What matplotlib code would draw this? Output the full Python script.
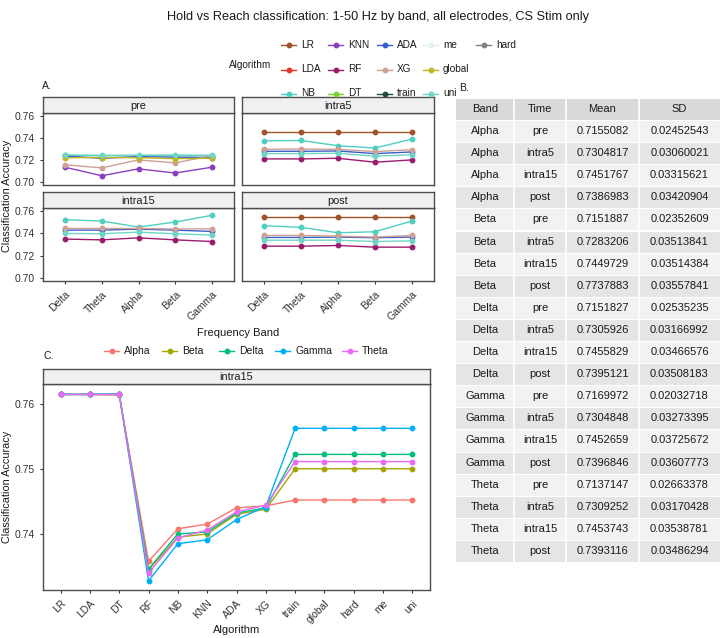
import matplotlib

matplotlib.use("Agg")
import matplotlib.pyplot as plt
from matplotlib.lines import Line2D
from matplotlib.patches import Rectangle

plt.rcParams["font.family"] = ["Liberation Sans", "DejaVu Sans"]

W, H = 720, 638
EDGE = "#4D4D4D"
TXT = "#333333"

# ---- data -----------------------------------------------------------------
bands = ["Delta", "Theta", "Alpha", "Beta", "Gamma"]
algorithms = ["LR", "LDA", "NB", "KNN", "RF", "DT", "ADA", "XG",
              "train", "me", "global", "uni", "hard"]
algo_colors = ["#A0522D", "#E8352A", "#4FCFC0", "#8B3FBF", "#9B1B6E", "#77D12E",
               "#3A5FCD", "#CFA096", "#1F4F3A", "#E3F4E3", "#BFB51C", "#6FD6C6",
               "#808080"]

pre_acc = {
    "NB": [0.7242, 0.7238, 0.7240, 0.7240, 0.7238],
    "KNN": [0.7133, 0.7055, 0.7118, 0.7080, 0.7133],
    "ADA": [0.7235, 0.7215, 0.7230, 0.7225, 0.7222],
    "XG": [0.7155, 0.7127, 0.7200, 0.7173, 0.7239],
    "global": [0.7220, 0.7222, 0.7220, 0.7212, 0.7215],
    "uni": [0.7245, 0.7243, 0.7243, 0.7245, 0.7243],
}
intra5_acc = {
    "LR": [0.7455, 0.7455, 0.7455, 0.7455, 0.7455],
    "NB": [0.7375, 0.7378, 0.7330, 0.7309, 0.7391],
    "RF": [0.7209, 0.7209, 0.7215, 0.7179, 0.7200],
    "ADA": [0.7279, 0.7279, 0.7282, 0.7258, 0.7273],
    "XG": [0.7297, 0.7300, 0.7297, 0.7276, 0.7294],
    "uni": [0.7258, 0.7258, 0.7261, 0.7234, 0.7248],
}
intra15_acc = {
    "NB": [0.7524, 0.7512, 0.7458, 0.7503, 0.7564],
    "RF": [0.7349, 0.7342, 0.7360, 0.7342, 0.7327],
    "ADA": [0.7430, 0.7430, 0.7439, 0.7430, 0.7418],
    "XG": [0.7445, 0.7445, 0.7445, 0.7440, 0.7442],
    "uni": [0.7400, 0.7397, 0.7412, 0.7397, 0.7385],
}
post_acc = {
    "LR": [0.7551, 0.7551, 0.7551, 0.7551, 0.7551],
    "NB": [0.7470, 0.7455, 0.7406, 0.7415, 0.7512],
    "RF": [0.7285, 0.7285, 0.7291, 0.7276, 0.7276],
    "ADA": [0.7364, 0.7364, 0.7367, 0.7361, 0.7367],
    "XG": [0.7382, 0.7382, 0.7376, 0.7367, 0.7382],
    "uni": [0.7339, 0.7339, 0.7339, 0.7327, 0.7333],
}

c_algorithms = ["LR", "LDA", "DT", "RF", "NB", "KNN", "ADA", "XG",
                "train", "global", "hard", "me", "uni"]
c_bands = ["Alpha", "Beta", "Delta", "Gamma", "Theta"]
c_colors = ["#F8766D", "#A3A500", "#00BF7D", "#00B0F6", "#E76BF3"]
alpha_c = [0.7614, 0.7614, 0.7613, 0.7358, 0.7408, 0.7415, 0.7440, 0.7443,
           0.7452, 0.7452, 0.7452, 0.7452, 0.7452]
beta_c = [0.7614, 0.7614, 0.7614, 0.7345, 0.7395, 0.7400, 0.7430, 0.7438,
          0.7500, 0.7500, 0.7500, 0.7500, 0.7500]
delta_c = [0.7614, 0.7614, 0.7614, 0.7346, 0.7400, 0.7403, 0.7432, 0.7440,
           0.7522, 0.7522, 0.7522, 0.7522, 0.7522]
gamma_c = [0.7614, 0.7614, 0.7615, 0.7328, 0.7385, 0.7391, 0.7422, 0.7442,
           0.7562, 0.7562, 0.7562, 0.7562, 0.7562]
theta_c = [0.7614, 0.7614, 0.7614, 0.7340, 0.7394, 0.7406, 0.7434, 0.7444,
           0.7511, 0.7511, 0.7511, 0.7511, 0.7511]

tbl_band = ["Alpha"] * 4 + ["Beta"] * 4 + ["Delta"] * 4 + ["Gamma"] * 4 + ["Theta"] * 4
tbl_time = ["pre", "intra5", "intra15", "post"] * 5
tbl_mean = ["0.7155082", "0.7304817", "0.7451767", "0.7386983",
            "0.7151887", "0.7283206", "0.7449729", "0.7737883",
            "0.7151827", "0.7305926", "0.7455829", "0.7395121",
            "0.7169972", "0.7304848", "0.7452659", "0.7396846",
            "0.7137147", "0.7309252", "0.7453743", "0.7393116"]
tbl_sd = ["0.02452543", "0.03060021", "0.03315621", "0.03420904",
          "0.02352609", "0.03513841", "0.03514384", "0.03557841",
          "0.02535235", "0.03166992", "0.03466576", "0.03508183",
          "0.02032718", "0.03273395", "0.03725672", "0.03607773",
          "0.02663378", "0.03170428", "0.03538781", "0.03486294"]

# ---- helpers --------------------------------------------------------------
fig = plt.figure(figsize=(W / 100, H / 100), dpi=100)
fig.patch.set_facecolor("white")

# transparent full-figure axes in pixel coords, drawn above the panels
overlay = fig.add_axes([0, 0, 1, 1])
overlay.set_xlim(0, W)
overlay.set_ylim(H, 0)
overlay.axis("off")
overlay.set_zorder(10)


def panel(x0, y0, x1, y1, label, strip_h=16):
    """Facet panel in pixel coords (top-left origin) with a grey strip on top."""
    ax = fig.add_axes([x0 / W, 1 - y1 / H, (x1 - x0) / W, (y1 - y0) / H])
    for s in ax.spines.values():
        s.set_color(EDGE)
        s.set_linewidth(1.0)
    ax.tick_params(colors=TXT, labelcolor=TXT, labelsize=7.5, length=2.5, width=0.8)
    strip = fig.add_axes([x0 / W, 1 - y0 / H, (x1 - x0) / W, strip_h / H])
    strip.set_facecolor("#F0F0F0")
    strip.set_xticks([])
    strip.set_yticks([])
    for s in strip.spines.values():
        s.set_color(EDGE)
        s.set_linewidth(1.0)
    strip.text(0.5, 0.45, label, ha="center", va="center", fontsize=7.8, color="#1A1A1A")
    return ax


def draw_bands(ax, acc, show_x, show_y):
    for name, color in zip(algorithms, algo_colors):
        if name in acc:
            ax.plot(range(len(bands)), acc[name], color=color, lw=1.0,
                    marker="o", ms=3.2, mec=color)
    ax.set_xlim(-0.6, len(bands) - 0.4)
    ax.set_ylim(0.697, 0.763)
    ax.set_yticks([0.70, 0.72, 0.74, 0.76])
    ax.set_xticks(range(len(bands)))
    if show_x:
        ax.set_xticklabels(bands, rotation=45, ha="right", rotation_mode="anchor")
    else:
        ax.tick_params(axis="x", bottom=False, labelbottom=False)
    if show_y:
        ax.set_yticklabels(["0.70", "0.72", "0.74", "0.76"])
    else:
        ax.tick_params(axis="y", left=False, labelleft=False)


# ---- title and algorithm legend -------------------------------------------
overlay.text(378, 17, "Hold vs Reach classification: 1-50 Hz by band, all electrodes, CS Stim only",
             ha="center", va="center", fontsize=9.2, color="#1A1A1A")
overlay.text(250, 65, "Algorithm", ha="center", va="center", fontsize=7.2, color="#1A1A1A")
leg_x = [281, 328, 377, 423, 476]
leg_y = [45, 69.5, 93.5]
for i, (name, color) in enumerate(zip(algorithms, algo_colors)):
    lx, ly = leg_x[i // 3], leg_y[i % 3]
    overlay.add_line(Line2D([lx, lx + 15], [ly, ly], color=color, lw=1.0))
    overlay.plot(lx + 7.5, ly, "o", color=color, ms=3.2)
    overlay.text(lx + 20, ly, name, ha="left", va="center", fontsize=7.2, color="#1A1A1A")

# ---- panel A ---------------------------------------------------------------
overlay.text(42, 86, "A.", ha="left", va="center", fontsize=7.5, color="#1A1A1A")
ax_pre = panel(43, 113, 234, 185, "pre")
ax_i5 = panel(242, 113, 434, 185, "intra5")
ax_i15 = panel(43, 208, 234, 281, "intra15")
ax_post = panel(242, 208, 434, 281, "post")
draw_bands(ax_pre, pre_acc, False, True)
draw_bands(ax_i5, intra5_acc, False, False)
draw_bands(ax_i15, intra15_acc, True, True)
draw_bands(ax_post, post_acc, True, False)
overlay.text(7, 196, "Classification Accuracy", rotation=90, ha="center", va="center",
             fontsize=7.8, color="#1A1A1A")
overlay.text(238, 333, "Frequency Band", ha="center", va="center", fontsize=8, color="#1A1A1A")

# ---- panel C ---------------------------------------------------------------
overlay.text(43, 356, "C.", ha="left", va="center", fontsize=7.5, color="#1A1A1A")
cleg_x = [104, 162, 219, 275, 342]
for lx, name, color in zip(cleg_x, c_bands, c_colors):
    overlay.add_line(Line2D([lx, lx + 15], [351, 351], color=color, lw=1.0))
    overlay.plot(lx + 7.5, 351, "o", color=color, ms=3.2)
    overlay.text(lx + 20, 351, name, ha="left", va="center", fontsize=7.5, color="#1A1A1A")

ax_c = panel(43, 384, 430, 590, "intra15", strip_h=15)
for vals, color in zip([alpha_c, beta_c, delta_c, gamma_c, theta_c], c_colors):
    ax_c.plot(range(len(c_algorithms)), vals, color=color, lw=1.0, marker="o", ms=3.2, mec=color)
ax_c.set_xlim(-0.6, len(c_algorithms) - 0.4)
ax_c.set_ylim(0.7314, 0.7630)
ax_c.set_yticks([0.74, 0.75, 0.76])
ax_c.set_yticklabels(["0.74", "0.75", "0.76"])
ax_c.set_xticks(range(len(c_algorithms)))
ax_c.set_xticklabels(c_algorithms, rotation=45, ha="right", rotation_mode="anchor")
overlay.text(7, 487, "Classification Accuracy", rotation=90, ha="center", va="center",
             fontsize=7.8, color="#1A1A1A")
overlay.text(237, 630, "Algorithm", ha="center", va="center", fontsize=8, color="#1A1A1A")

# ---- table B ---------------------------------------------------------------
overlay.text(459, 88, "B.", ha="left", va="center", fontsize=7.5, color="#1A1A1A")
col_edges = [456, 514, 566, 639, 720]
head_top, head_bot, row_h = 99, 120, 22.1
tab = overlay
tab.add_patch(Rectangle((col_edges[0], head_top), col_edges[-1] - col_edges[0],
                        head_bot - head_top, facecolor="#D9D9D9", edgecolor="none"))
for j, head in enumerate(["Band", "Time", "Mean", "SD"]):
    cx = (col_edges[j] + col_edges[j + 1]) / 2
    tab.text(cx, (head_top + head_bot) / 2, head, ha="center", va="center",
             fontsize=8, color="#1A1A1A")
for i, row in enumerate(zip(tbl_band, tbl_time, tbl_mean, tbl_sd)):
    top = head_bot + i * row_h
    shade = "#F2F2F2" if i % 2 == 0 else "#E5E5E5"
    tab.add_patch(Rectangle((col_edges[0], top), col_edges[-1] - col_edges[0], row_h,
                            facecolor=shade, edgecolor="none"))
    for j, cell in enumerate(row):
        cx = (col_edges[j] + col_edges[j + 1]) / 2
        tab.text(cx, top + row_h / 2, cell, ha="center", va="center", fontsize=8,
                 color="#1A1A1A")
table_bot = head_bot + len(tbl_band) * row_h
for x in col_edges[1:-1]:
    tab.add_line(Line2D([x, x], [head_top, table_bot], color="white", lw=1.2))
for i in range(len(tbl_band)):
    y = head_bot + i * row_h
    tab.add_line(Line2D([col_edges[0], col_edges[-1]], [y, y], color="white", lw=0.8))

fig.savefig("out.png", dpi=100)
